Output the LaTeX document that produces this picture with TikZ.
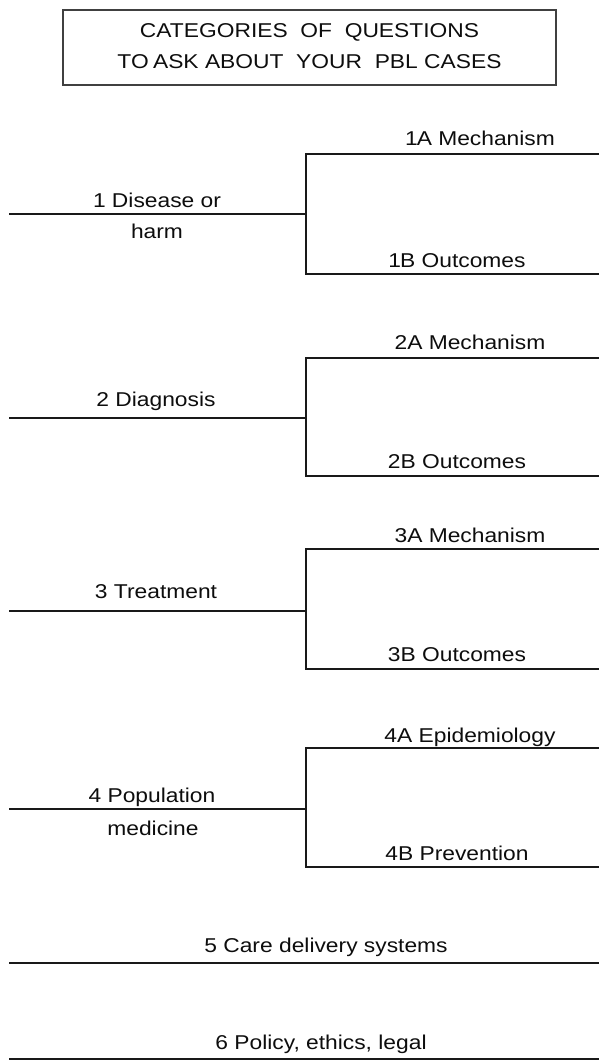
\documentclass[tikz,border=0pt]{standalone}
\usepackage{fontspec}
\setmainfont{Liberation Sans}[FakeStretch=1.14]
\begin{document}
\begin{tikzpicture}[x=1pt,y=-1pt,
  lbl/.style={anchor=base,inner sep=0pt,font=\fontsize{20}{24}\selectfont,text=black!95},
  branch/.style={line width=2pt,black!90},
  titlebox/.style={line width=1.4pt,black!75}]
\useasboundingbox (0,0) rectangle (599,1062);
% title
\draw[titlebox] (63,10) rectangle (556,85);
\node[lbl] (t1) at (309.5,38) {CATEGORIES\ \ OF\ \ QUESTIONS};
\node[lbl] (t2) at (309.5,68.5) {TO\hspace{-2pt} ASK ABOUT\ \ YOUR\ \ PBL CASES};
% branch 1
\coordinate (s1) at (9,214);   \coordinate (j1) at (306,214);
\coordinate (a1) at (306,154); \coordinate (ae1) at (599,154);
\coordinate (b1) at (306,274); \coordinate (be1) at (599,274);
\draw[branch] (s1) -- (j1);
\draw[branch] (ae1) -- (a1) -- (b1) -- (be1);
\node[lbl] (l1a) at (157,207) {1 Disease or};
\node[lbl] (l1b) at (157,238) {harm};
\node[lbl] (r1a) at (480,146) {1\hspace{-1pt}A Mechanism};
\node[lbl] (r1b) at (457,267) {1\hspace{-1pt}B Outcomes};
% branch 2
\coordinate (s2) at (9,418);   \coordinate (j2) at (306,418);
\coordinate (a2) at (306,358); \coordinate (ae2) at (599,358);
\coordinate (b2) at (306,476); \coordinate (be2) at (599,476);
\draw[branch] (s2) -- (j2);
\draw[branch] (ae2) -- (a2) -- (b2) -- (be2);
\node[lbl] (l2) at (156,406) {2 Diagnosis};
\node[lbl] (r2a) at (470,349) {2A Mechanism};
\node[lbl] (r2b) at (457,468) {2B Outcomes};
% branch 3
\coordinate (s3) at (9,611);   \coordinate (j3) at (306,611);
\coordinate (a3) at (306,549); \coordinate (ae3) at (599,549);
\coordinate (b3) at (306,669); \coordinate (be3) at (599,669);
\draw[branch] (s3) -- (j3);
\draw[branch] (ae3) -- (a3) -- (b3) -- (be3);
\node[lbl] (l3) at (156,598) {3 Treatment};
\node[lbl] (r3a) at (470,542) {3A Mechanism};
\node[lbl] (r3b) at (457,661) {3B Outcomes};
% branch 4
\coordinate (s4) at (9,809);   \coordinate (j4) at (306,809);
\coordinate (a4) at (306,748); \coordinate (ae4) at (599,748);
\coordinate (b4) at (306,867); \coordinate (be4) at (599,867);
\draw[branch] (s4) -- (j4);
\draw[branch] (ae4) -- (a4) -- (b4) -- (be4);
\node[lbl] (l4a) at (152,802) {4 Population};
\node[lbl] (l4b) at (153,835) {medicine};
\node[lbl] (r4a) at (470,742) {4A Epidemiology};
\node[lbl] (r4b) at (457,860) {4B Prevention};
% line 5
\coordinate (s5) at (9,963); \coordinate (e5) at (599,963);
\draw[branch] (s5) -- (e5);
\node[lbl] (l5) at (326,952) {5 Care delivery systems};
% line 6
\coordinate (s6) at (9,1059); \coordinate (e6) at (599,1059);
\draw[branch] (s6) -- (e6);
\node[lbl] (l6) at (321,1049) {6 Policy, ethics, legal};
\end{tikzpicture}
\end{document}
